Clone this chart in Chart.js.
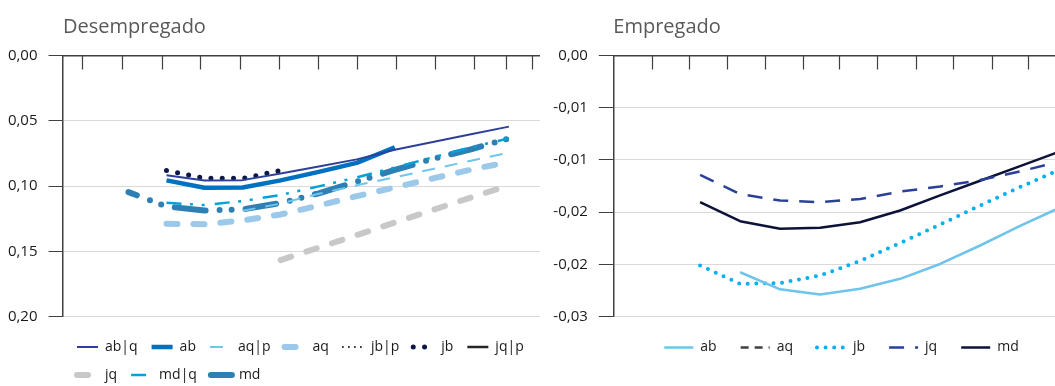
<!DOCTYPE html>
<html>
<head>
<meta charset="utf-8">
<script src="https://cdn.jsdelivr.net/npm/chart.js@4.4.1/dist/chart.umd.min.js"></script>
<style>
  html, body { margin: 0; padding: 0; background: #ffffff; overflow: hidden; }
  #wrap { position: relative; width: 1055px; height: 386px; overflow: hidden; }
  canvas { position: absolute; top: 0; }
</style>
</head>
<body>
<div id="wrap">
  <canvas id="left" width="540" height="400" style="left:0px"></canvas>
  <canvas id="right" width="560" height="400" style="left:540px"></canvas>
</div>
<script>
// ---------- DATA ----------
// Left panel: "Desempregado" (category positions 0..10)
const leftX = [0, 1, 2, 3, 4, 5, 6, 7, 8, 9, 10];
const left_abq = [null, 0.0917, 0.0957, 0.0955, 0.0904, 0.0850, 0.0796, 0.0722, 0.0663, 0.0604, 0.0545];
const left_ab  = [null, 0.0957, 0.1013, 0.1011, 0.0957, 0.0892, 0.0823, 0.0704, null, null, null];
const left_aqp = [null, null, null, 0.1190, 0.1135, 0.1060, 0.0995, 0.0933, 0.0870, 0.0806, 0.0745];
const left_aq  = [null, 0.1290, 0.1293, 0.1264, 0.1218, 0.1150, 0.1078, 0.1011, 0.0942, 0.0875, 0.0815];
const left_jbp = [null, null, null, null, null, null, null, null, null, null, null];
const left_jb  = [null, 0.0881, 0.0940, 0.0942, 0.0881, null, null, null, null, null, null];
const left_jqp = [null, null, null, null, null, null, null, null, null, null, null];
const left_jq  = [null, null, null, null, 0.1568, 0.1472, 0.1376, 0.1280, 0.1184, 0.1088, 0.0996];
const left_mdq = [null, 0.1129, 0.1146, 0.1115, 0.1069, 0.1003, 0.0934, 0.0858, 0.0780, 0.0703, 0.0635];
const left_md  = [0.1047, 0.1157, 0.1188, 0.1179, 0.1130, 0.1056, 0.0967, 0.0877, 0.0792, 0.0719, 0.0635];
const leftYTickLabels = ['0,00', '0,05', '0,10', '0,15', '0,20'];
const leftTopTicks = [-1.21, -0.17, 0.87, 1.88, 2.92, 3.96, 4.98, 6.0, 7.03, 8.05, 9.09, 9.93, 10.6];

// Right panel: "Empregado" (category positions 0..9)
const rightX = [0, 1, 2, 3, 4, 5, 6, 7, 8, 9];
const right_ab = [null, -0.02076, -0.02240, -0.02289, -0.02235, -0.02139, -0.01997, -0.01820, -0.01633, -0.01456];
const right_aq = [null, null, null, null, null, null, null, null, null, null];
const right_jb = [-0.02011, -0.02187, -0.02179, -0.02108, -0.01968, -0.01796, -0.01619, -0.01437, -0.01260, -0.01092];
const right_jq = [-0.01143, -0.01327, -0.01389, -0.01405, -0.01375, -0.01303, -0.01255, -0.01193, -0.01110, -0.01015];
const right_md = [-0.01405, -0.01587, -0.01660, -0.01650, -0.01597, -0.01485, -0.01340, -0.01200, -0.01060, -0.00919];
const rightYTickLabels = ['0,00', '-0,01', '-0,01', '-0,02', '-0,02', '-0,03'];
const rightTopTicks = [-1.21, -0.29, 0.67, 1.61, 2.57, 3.48, 4.43, 5.39, 6.33, 7.29, 8.19, 9.13];

// ---------- STYLE ----------
Chart.defaults.font.family = "'Open Sans', 'Noto Sans', sans-serif";
Chart.defaults.color = '#1a1a1a';
const AXIS = '#404040';
const GRID = '#d9d9d9';

const topTicksPlugin = {
  id: 'topTicks',
  afterDraw(chart, args, opts) {
    const { ctx, chartArea } = chart;
    const xs = chart.scales.x;
    ctx.save();
    ctx.strokeStyle = opts.color;
    ctx.lineWidth = opts.width;
    ctx.beginPath();
    (opts.positions || []).forEach(v => {
      const px = Math.round(xs.getPixelForValue(v)) + 0.5;
      if (px < chartArea.left || px > chartArea.right) return;
      ctx.moveTo(px, chartArea.top);
      ctx.lineTo(px, chartArea.top + opts.length);
    });
    ctx.stroke();
    ctx.restore();
  }
};

function series(label, xs, ys, color, width, dash, cap, dashOffset) {
  return {
    label,
    data: xs.map((x, i) => ({ x: x, y: ys[i] })),
    borderColor: color,
    backgroundColor: color,
    borderWidth: width,
    borderDash: dash || [],
    borderDashOffset: dashOffset || 0,
    borderCapStyle: cap || 'butt',
    borderJoinStyle: 'round',
    pointRadius: 0,
    pointHoverRadius: 0,
    tension: 0,
    fill: false
  };
}

function gridColor(c) {
  return (c.tick && Math.abs(c.tick.value) < 1e-9) ? AXIS : GRID;
}

function legendLabels(chart) {
  const items = Chart.defaults.plugins.legend.labels.generateLabels(chart);
  items.forEach(it => {
    const d = chart.data.datasets[it.datasetIndex];
    it.lineDash = d.borderDash;
    it.lineCap = d.borderCapStyle;
    it.lineWidth = d.borderWidth;
    it.strokeStyle = d.borderColor;
    it.fillStyle = d.borderColor;
  });
  return items;
}

function makeChart(id, cfg) {
  return new Chart(document.getElementById(id), {
    type: 'line',
    data: { datasets: cfg.datasets },
    plugins: [topTicksPlugin],
    options: {
      responsive: false,
      animation: false,
      devicePixelRatio: 1,
      layout: { padding: { left: 0, right: cfg.padRight, top: 0, bottom: cfg.padBottom } },
      scales: {
        x: {
          type: 'linear', position: 'top', min: cfg.xMin, max: cfg.xMax,
          ticks: { display: false },
          grid: { display: false, drawTicks: false },
          border: { display: true, color: AXIS, width: 1.5 },
          afterFit: s => { s.height = 0; }
        },
        y: {
          type: 'linear', min: cfg.yMin, max: cfg.yMax, reverse: cfg.reverse,
          afterFit: s => { s.width = cfg.yWidth; },
          ticks: {
            stepSize: cfg.yStep, padding: 11, color: '#1a1a1a',
            font: { size: 15 },
            callback: cfg.yLabel
          },
          grid: { color: gridColor, tickColor: AXIS, tickLength: 14.5, lineWidth: 1 },
          border: { display: true, color: AXIS, width: 1.5 }
        }
      },
      plugins: {
        topTicks: { positions: cfg.topTicks, color: AXIS, width: 1.2, length: 14 },
        title: {
          display: true, text: cfg.title, align: 'start', fullSize: false,
          color: '#595959', font: { size: 20, weight: 'normal' },
          padding: { top: 15, bottom: 16.5 }
        },
        legend: {
          position: 'bottom', align: cfg.legendAlign, fullSize: false,
          title: cfg.legendTitle,
          labels: {
            usePointStyle: true, pointStyle: 'line', pointStyleWidth: cfg.sampleWidth,
            padding: cfg.legendPad, color: '#1a1a1a', font: { size: 14 },
            generateLabels: legendLabels
          }
        },
        tooltip: { enabled: false }
      }
    }
  });
}

makeChart('left', {
  title: 'Desempregado',
  xMin: -1.72, xMax: 10.816,
  yMin: 0, yMax: 0.2, yStep: 0.05, reverse: true, yWidth: 63,
  yLabel: v => leftYTickLabels[Math.round(v / 0.05)],
  topTicks: leftTopTicks,
  padRight: 0, padBottom: 8,
  legendAlign: 'start', legendPad: 14, sampleWidth: 21,
  legendTitle: { display: true, text: '', font: { size: 5 }, padding: { top: 3.5, bottom: 0 } },
  datasets: [
    series('ab|q', leftX, left_abq, '#2e3f99', 2),
    series('ab', leftX, left_ab, '#0070c0', 4.5),
    series('aq|p', leftX, left_aqp, '#6fc5ec', 2, [13, 10]),
    series('aq', leftX, left_aq, '#9cc9ea', 6, [11, 16], 'round'),
    series('jb|p', leftX, left_jbp, '#0d1a4a', 2, [0, 6], 'round'),
    series('jb', leftX, left_jb, '#0b1747', 5, [0, 11.3], 'round'),
    series('jq|p', leftX, left_jqp, '#262626', 2.5),
    series('jq', leftX, left_jq, '#c8c8c8', 6, [11, 16], 'round'),
    series('md|q', leftX, left_mdq, '#00a2d8', 2.5, [15, 8.5, 3, 8.7, 3, 10.2]),
    series('md', leftX, left_md, '#2e7fb3', 6, [31, 14, 0, 12, 0, 14], 'round', 22)
  ]
});

makeChart('right', {
  title: 'Empregado',
  xMin: -2.17, xMax: 9.24,
  yMin: -0.025, yMax: 0, yStep: 0.005, reverse: false, yWidth: 73.3,
  yLabel: v => rightYTickLabels[Math.round(-v / 0.005)],
  topTicks: rightTopTicks,
  padRight: 30.3, padBottom: 35.5,
  legendAlign: 'center', legendPad: 24, sampleWidth: 29,
  legendTitle: { display: false },
  datasets: [
    series('ab', rightX, right_ab, '#6ec4ea', 2.5),
    series('aq', rightX, right_aq, '#404040', 2.5, [8, 6]),
    series('jb', rightX, right_jb, '#00b0f0', 4, [0, 8.6], 'round'),
    series('jq', rightX, right_jq, '#2b4199', 2.5, [15, 11]),
    series('md', rightX, right_md, '#0c1238', 2.5)
  ]
});
</script>
</body>
</html>
